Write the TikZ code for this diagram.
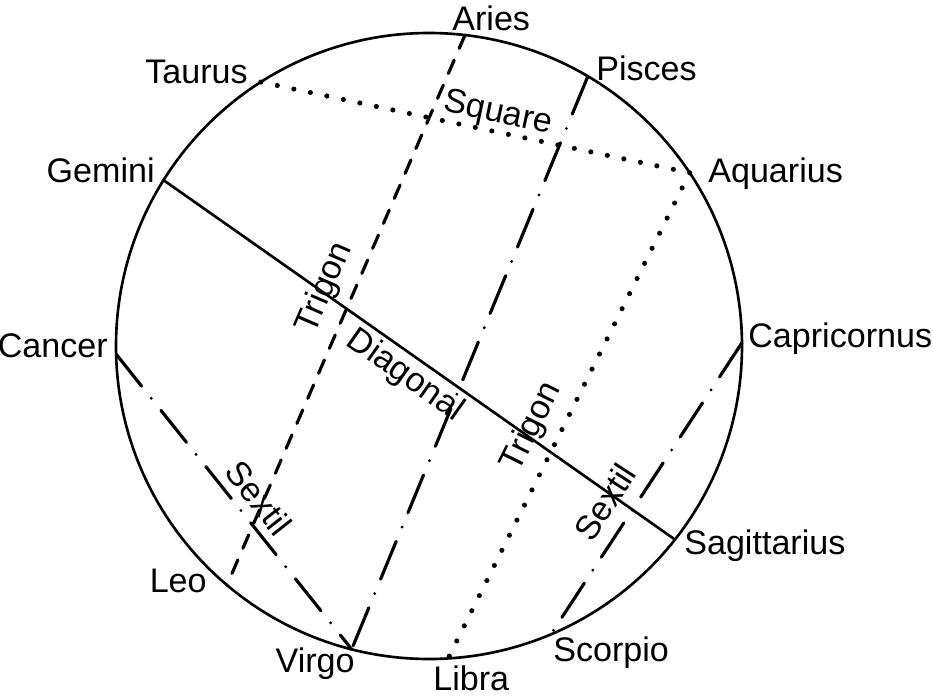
\documentclass[tikz,border=0pt]{standalone}
\usepackage{fontspec}
\setmainfont{Liberation Sans}

\begin{document}
\begin{tikzpicture}[x=0.02cm, y=0.02cm, font=\fontsize{19.4}{23}\selectfont,
	   tag/.style={inner sep=0pt},
	   asp/.style={line width=1.8pt, line cap=round},
	   solidline/.style={line width=1.5pt},
	   dashline/.style={asp, dash pattern=on 8.3pt off 7.2pt},
	   dotline/.style={asp, line width=2.9pt, dash pattern=on 0pt off 9.6pt},
	   dashdotline/.style={asp, dash pattern=on 23.3pt off 8.8pt on 0pt off 8.8pt}]
	  \useasboundingbox (-429,-352) rectangle (504,346);
	  \draw[solidline] (0,0) circle (313);
	  % points on the circle
	  \coordinate (aries) at (83.4:313);
	  \coordinate (taurus) at (122.5:313);
	  \coordinate (gemini) at (148:313);
	  \coordinate (cancer) at (181.5:313);
	  \coordinate (leo) at (229.8:313);
	  \coordinate (virgo) at (255.7:313);
	  \coordinate (libra) at (273.5:313);
	  \coordinate (scorpio) at (292.9:313);
	  \coordinate (sagittarius) at (321.8:313);
	  \coordinate (capricornus) at (0.6:313);
	  \coordinate (aquarius) at (33.6:313);
	  \coordinate (pisces) at (59.5:313);
	  % signs
	  \node[tag, anchor=base west] (ariesl) at (23,316) {Aries};
	  \node[tag, anchor=base west] (piscesl) at (167,266) {Pisces};
	  \node[tag, anchor=base west] (aquariusl) at (279,164) {Aquarius};
	  \node[tag, anchor=base west] (capricornusl) at (319,-1) {Capricornus};
	  \node[tag, anchor=base west] (sagittariusl) at (255,-208) {Sagittarius};
	  \node[tag, anchor=base west] (scorpiol) at (124,-315) {Scorpio};
	  \node[tag, anchor=base west] (libral) at (4,-344) {Libra};
	  \node[tag, anchor=base east] (virgol) at (-74,-326) {Virgo};
	  \node[tag, anchor=base east] (leol) at (-222,-246) {Leo};
	  \node[tag, anchor=base east] (cancerl) at (-321,-11) {Cancer};
	  \node[tag, anchor=base east] (geminil) at (-274,164) {Gemini};
	  \node[tag, anchor=base east] (taurusl) at (-181,263) {Taurus};
	  % aspects
	  \draw[dashline] (aries) -- (leo);
	  \draw[dotline] (taurus) -- (aquarius);
	  \draw[solidline] (gemini) -- (sagittarius);
	  \draw[dashdotline] (pisces) -- (virgo);
	  \draw[dotline] (aquarius) -- (libra);
	  \draw[dashdotline] (capricornus) -- (scorpio);
	  \draw[dashdotline] (cancer) -- (virgo);
	  \node[tag, rotate=-12] (square) at (69,232) {Square};
	  \node[tag, rotate=66.6] (trigon1) at (-104,58) {Trigon};
	  \node[tag, rotate=-35.2] (diagonal) at (-24,-30) {Diagonal};
	  \node[tag, rotate=63.6] (trigon2) at (103,-81) {Trigon};
	  \node[tag, rotate=-51.7] (sextil1) at (-170,-152) {Sextil};
	  \node[tag, rotate=57.1] (sextil2) at (176,-156) {Sextil};
	\end{tikzpicture}
\end{document}
